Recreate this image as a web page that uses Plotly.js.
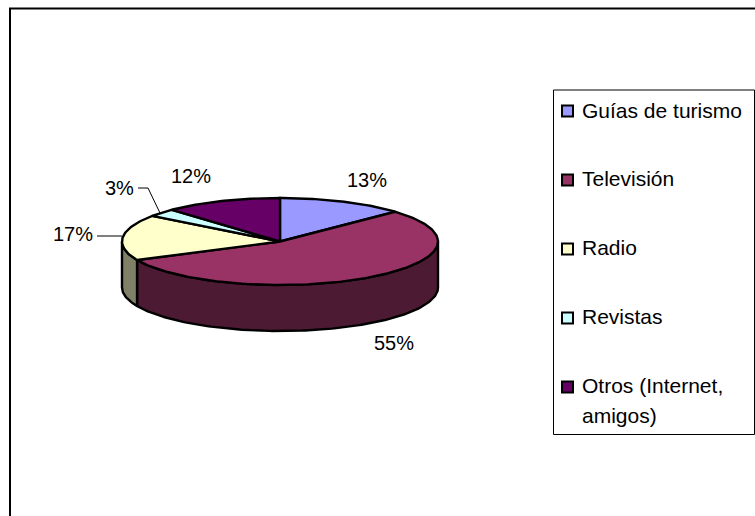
<!DOCTYPE html>
<html><head><meta charset="utf-8">
<script src="https://cdn.plot.ly/plotly-3.0.1.min.js"></script>
<style>html,body{margin:0;padding:0;background:#fff}#c{width:755px;height:516px}</style>
</head><body><div id="c"></div>
<script>
const categories = ['Guías de turismo','Televisión','Radio','Revistas','Otros (Internet,<br>amigos)'];
const values = [13,55,17,3,12];
const topColors = ['#9999FF','#993366','#FFFFCC','#CCFFFF','#660066'];
const sideColors = ['#4D4D80','#4D1A33','#808066','#668080','#330033'];
const labelX = [367,394,73,119,191];
const labelY = [180,343,234,188,176];
const legendY = [111,180,249,318,387];
const legendTextY = [110,178,247,316,385];

const cx=280, cy=241.5, rx=158, ry=43.5, depth=46;
const FONT='Liberation Sans, Arial, sans-serif';
const total=values.reduce((a,b)=>a+b,0);
function pt(deg,dy){const r=deg*Math.PI/180;return [cx+rx*Math.sin(r), cy-ry*Math.cos(r)+dy];}
function arc(a,b,dy){const n=Math.max(2,Math.ceil(Math.abs(b-a)));const o=[];for(let i=0;i<=n;i++)o.push(pt(a+(b-a)*i/n,dy));return o;}
const traces=[]; let start=0;
const slices=values.map(v=>{const s=start;start+=v/total*360;return [s,start];});
function poly(points,fill,name){traces.push({type:'scatter',mode:'lines',x:points.map(p=>p[0]),y:points.map(p=>p[1]),
  fill:'toself',fillcolor:fill,line:{color:'#000',width:2.4},name:name,showlegend:false,hoverinfo:'name'});}
slices.forEach(([a,b],i)=>{const f=Math.max(a,90),t=Math.min(b,270);
  if(f<t){poly([...arc(f,t,0),...arc(t,f,depth),pt(f,0)],sideColors[i],categories[i]);}});
slices.forEach(([a,b],i)=>{const c=[cx,cy];poly([c,...arc(a,b,0),c],topColors[i],categories[i]);});
// leader lines
traces.push({type:'scatter',mode:'lines',x:[97,122],y:[236,236],line:{color:'#000',width:1},showlegend:false,hoverinfo:'skip'});
traces.push({type:'scatter',mode:'lines',x:[138,148,160],y:[188,188,213],line:{color:'#000',width:1},showlegend:false,hoverinfo:'skip'});
// legend swatches
traces.push({type:'scatter',mode:'markers',x:categories.map(()=>567.5),y:legendY,
  marker:{symbol:'square',size:11,color:topColors,line:{color:'#000',width:2}},showlegend:false,hoverinfo:'skip'});
const ann=values.map((v,i)=>({x:labelX[i],y:labelY[i],xref:'x',yref:'y',text:v+'%',showarrow:false,
  font:{family:FONT,size:20,color:'#000'},xanchor:'center',yanchor:'middle'}));
categories.forEach((c,i)=>c.split('<br>').forEach((line,k)=>ann.push({x:580,y:legendTextY[i]+k*30,xref:'x',yref:'y',text:line,showarrow:false,align:'left',
  font:{family:FONT,size:21,color:'#000'},xanchor:'left',yanchor:'middle'})));
const layout={width:755,height:516,margin:{l:0,r:0,t:0,b:0},paper_bgcolor:'#fff',plot_bgcolor:'#fff',showlegend:false,
  xaxis:{range:[0,755],visible:false,fixedrange:true},
  yaxis:{range:[516,0],visible:false,fixedrange:true},
  annotations:ann,
  shapes:[
   {type:'rect',xref:'x',yref:'y',x0:10,y0:8.5,x1:770,y1:530,line:{color:'#000',width:2},layer:'below'},
   {type:'rect',xref:'x',yref:'y',x0:553.5,y0:90,x1:754.5,y1:434.5,line:{color:'#000',width:1},layer:'below'}
  ]};
Plotly.newPlot('c',traces,layout,{displayModeBar:false,staticPlot:true});
</script></body></html>
